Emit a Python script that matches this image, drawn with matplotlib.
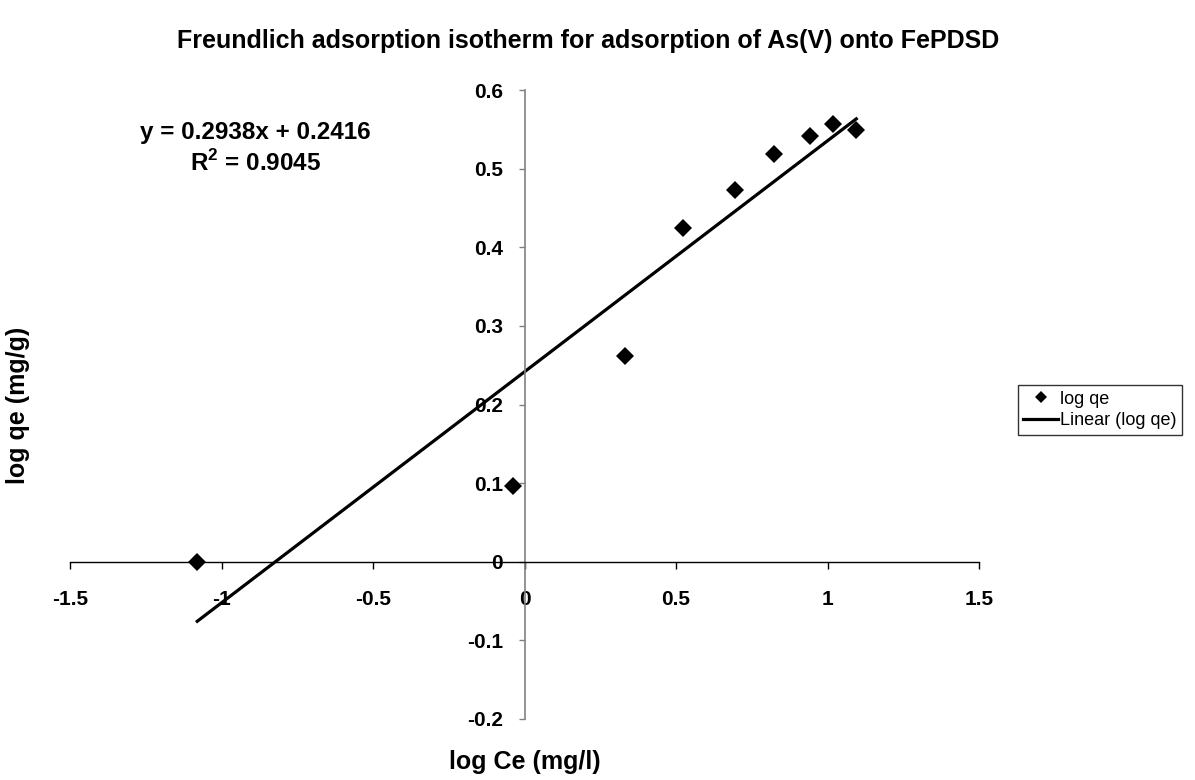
import numpy as np
import matplotlib
matplotlib.use('Agg')
from matplotlib import pyplot as plt
from matplotlib.lines import Line2D

plt.rcParams['font.family'] = ['Liberation Sans', 'DejaVu Sans']
plt.rcParams['mathtext.fontset'] = 'custom'
plt.rcParams['mathtext.bf'] = 'Liberation Sans:bold'

# log Ce (mg/l) and log qe (mg/g)
log_ce = [-1.080, -0.038, 0.333, 0.522, 0.696, 0.823, 0.943, 1.018, 1.095]
log_qe = [0.000, 0.096, 0.262, 0.424, 0.473, 0.518, 0.541, 0.557, 0.549]

# Excel trendline shown on the chart
slope, intercept = 0.2938, 0.2416
r_squared = 0.9045

x_ticks = [-1.5, -1, -0.5, 0, 0.5, 1, 1.5]
y_ticks = [-0.2, -0.1, 0, 0.1, 0.2, 0.3, 0.4, 0.5, 0.6]

fig = plt.figure(figsize=(11.95, 7.8), dpi=100)
ax = fig.add_axes([70 / 1195, 61 / 780, 909 / 1195, 629 / 780])

ax.plot(log_ce, log_qe, linestyle='none', marker='D', markersize=9.5,
        color='black', markeredgewidth=0, zorder=3)

fit_x = np.array([min(log_ce), max(log_ce)])
ax.plot(fit_x, slope * fit_x + intercept, color='black', linewidth=2.3, zorder=2)

ax.set_xlim(-1.5, 1.5)
ax.set_ylim(-0.2, 0.6)
ax.set_xticks(x_ticks)
ax.set_xticklabels(['%g' % t for t in x_ticks])
ax.set_yticks(y_ticks)
ax.set_yticklabels(['%g' % t for t in y_ticks])

ax.spines['left'].set_position(('data', 0))
ax.spines['bottom'].set_position(('data', 0))
ax.spines['top'].set_visible(False)
ax.spines['right'].set_visible(False)
ax.spines['left'].set_color('#808080')
ax.spines['bottom'].set_color('black')
ax.spines['left'].set_linewidth(1.2)
ax.spines['bottom'].set_linewidth(1.0)

ax.tick_params(axis='x', direction='out', length=5, width=1, pad=15,
               labelsize=15, colors='black')
ax.tick_params(axis='y', direction='out', length=4.5, width=1, pad=11,
               labelsize=15, color='#808080', labelcolor='black')
for lab in ax.get_xticklabels() + ax.get_yticklabels():
    lab.set_fontweight('bold')

fig.text(588 / 1195, 1 - 41 / 780,
         'Freundlich adsorption isotherm for adsorption of As(V) onto FePDSD',
         ha='center', va='center', fontsize=18, fontweight='bold')
fig.text(524.5 / 1195, 1 - 762 / 780, 'log Ce (mg/l)',
         ha='center', va='center', fontsize=18, fontweight='bold')
fig.text(18 / 1195, 1 - 405 / 780, 'log qe (mg/g)', rotation=90,
         ha='center', va='center', fontsize=18, fontweight='bold')

# trendline label, two centred lines
fig.text(255 / 1195, 1 - 132 / 780,
         'y = %.4fx + %.4f' % (slope, intercept),
         ha='center', va='center', fontsize=17.5, fontweight='bold')
fig.text(256 / 1195, 1 - 163 / 780, r'R$^{\mathbf{2}}$ = %.4f' % r_squared,
         ha='center', va='center', fontsize=17.5, fontweight='bold')

handles = [
    Line2D([], [], linestyle='none', marker='D', markersize=6.5,
           color='black', markeredgewidth=0),
    Line2D([], [], color='black', linewidth=2.3),
]
leg = fig.legend(handles, ['log qe', 'Linear (log qe)'], loc='center left',
                 bbox_to_anchor=(1018 / 1195, 1 - 410 / 780), fontsize=13,
                 frameon=True, fancybox=False, edgecolor='black',
                 handlelength=1.9, handletextpad=0.15, borderpad=0.3,
                 labelspacing=0.25, borderaxespad=0)
leg.get_frame().set_linewidth(1.0)

fig.savefig('out.png', dpi=100)
